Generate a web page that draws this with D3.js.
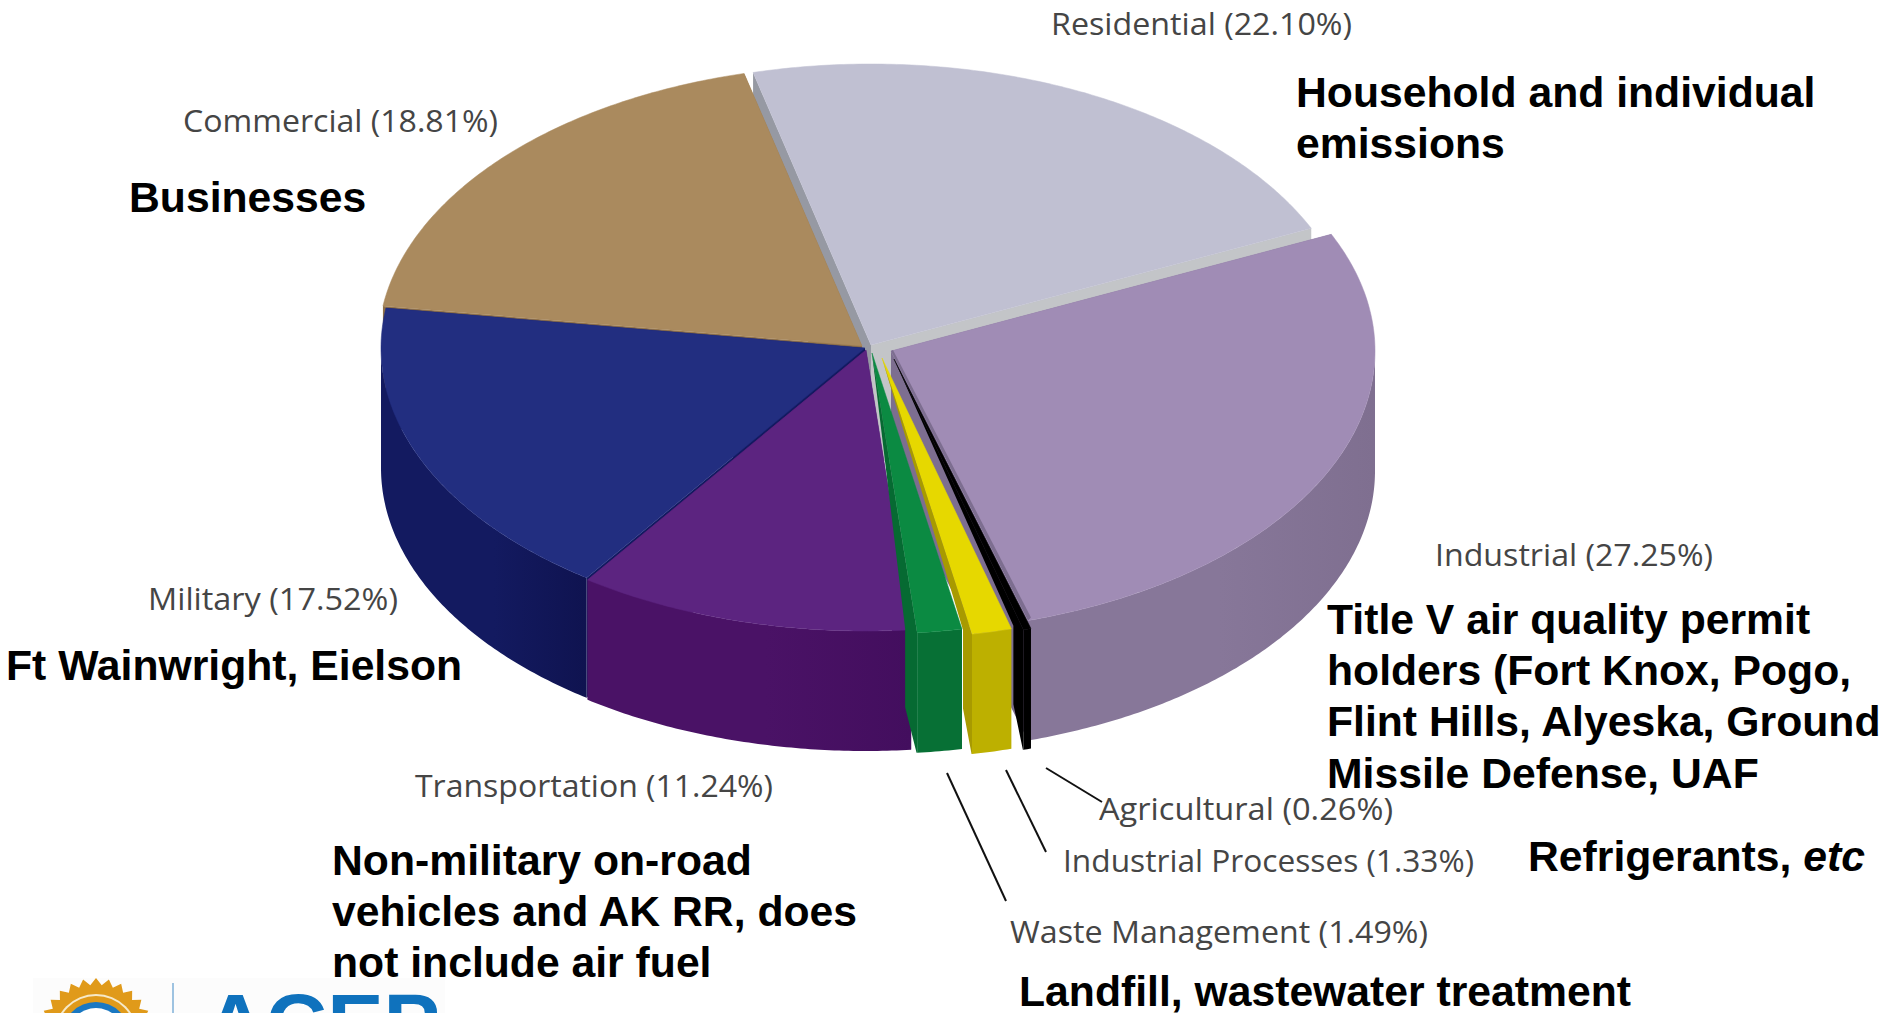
<!DOCTYPE html>
<html><head><meta charset="utf-8">
<style>html,body{margin:0;padding:0;background:#fff;overflow:hidden}svg{display:block}</style>
<script src="https://cdn.jsdelivr.net/npm/d3@7"></script></head>
<body><svg id="c" width="1888" height="1013"></svg>
<script>
const categories = ["Residential","Industrial","Agricultural","Industrial Processes","Waste Management","Transportation","Military","Commercial"];
const shares = [22.10,27.25,0.26,1.33,1.49,11.24,17.52,18.81];
const notes = [
 ["Household and individual","emissions"],
 ["Title V air quality permit","holders (Fort Knox, Pogo,","Flint Hills, Alyeska, Ground","Missile Defense, UAF"],
 [],
 ["Refrigerants, |etc"],
 ["Landfill, wastewater treatment"],
 ["Non-military on-road","vehicles and AK RR, does","not include air fuel"],
 ["Ft Wainwright, Eielson"],
 ["Businesses"]
];
const topColors  = ["#c0c0d2","#a08cb5","#000000","#e6d800","#0b8a42","#5c2480","#222e80","#aa8a5e"];
const wallColors = [["#c3c5c8","#c3c5c8"],["#877799","#7f6f90"],["#000000","#000000"],["#bdb000","#bdb000"],["#077035","#077035"],["#4a1266","#430e5e"],["#131a60","#0f1350"],["#8f7048","#8f7048"]];
const cutColors  = ["#c3c5c8","#7d6e90","#000000","#a89a00","#066a32","#4a1266","#131a60","#8f7048"];
const leftCut = "#9699a3";
// layout: explosion offset [dx,dy], side strip width, draw order
const explode = [[5,-5],[25,1],[28,9],[16,8],[6,3],[0,0],[-1,-2],[-4,-4]];
const strip   = [0,3,10,9,12,0,0,0];
const drawOrder = [0,7,1,6,5,2,3,4];
const labelBox = [[1051,35,301],[1435,566,278],[1099,820,294],[1063,872,411],[1010,943,418],[415,797,358],[148,610,250],[183,132,315]];
const noteBox  = [[1296,107],[1327,634],null,[1528,871],[1019,1006],[332,875],[6,680],[129,212]];
const leaders  = [[1046,768,1102,802],[1006,770,1046,852],[947,773,1006,901]];

const svg = d3.select("#c");
const defs = svg.append("defs");
const cx=866, cy=350, depth=120;
const X=d3.scaleLinear().domain([-1,1]).range([cx-484,cx+484]);
const Y=d3.scaleLinear().domain([-1,1]).range([cy-281,cy+281]);
const start=-14.1*Math.PI/180;
const arcs=d3.pie().sort(null).startAngle(start).endAngle(start+2*Math.PI)(shares);
const line=d3.line();
const rim=(a,o)=>[X(Math.sin(a))+o[0],Y(-Math.cos(a))+o[1]];
const samples=(a0,a1)=>{const n=Math.max(2,Math.ceil((a1-a0)/0.01));return d3.range(n+1).map(i=>a0+(a1-a0)*i/n);};
const poly=pts=>line(pts)+"Z";

drawOrder.forEach(i=>{
  const d=arcs[i], o=explode[i], g=svg.append("g").attr("class","slice");
  const apex=[cx+o[0],cy+o[1]];
  const down=p=>[p[0],p[1]+depth];
  const pA=rim(d.startAngle,o), pB=rim(d.endAngle,o);
  const narrow = i>=2 && i<=4;
  // cut faces (narrow wedges use a tapered strip instead)
  if(!narrow){
    g.append("path").attr("d",poly([apex,pA,down(pA),down(apex)])).attr("fill",i===0?leftCut:cutColors[i]);
    g.append("path").attr("d",poly([apex,pB,down(pB),down(apex)])).attr("fill",cutColors[i]);
  }
  // outer wall, only the part facing the viewer
  const a0=Math.max(d.startAngle,Math.PI/2), a1=Math.min(d.endAngle,3*Math.PI/2);
  if(a1>a0){
    const top=samples(a0,a1).map(a=>rim(a,o));
    const id="w"+i;
    const xs=top.map(p=>p[0]);
    const lg=defs.append("linearGradient").attr("id",id).attr("gradientUnits","userSpaceOnUse")
      .attr("x1",d3.min(xs)).attr("x2",d3.max(xs)).attr("y1",0).attr("y2",0);
    lg.append("stop").attr("offset",0).attr("stop-color",wallColors[i][0]);
    lg.append("stop").attr("offset",.55).attr("stop-color",wallColors[i][0]);
    lg.append("stop").attr("offset",1).attr("stop-color",wallColors[i][1]);
    g.append("path").attr("d",poly(top.concat(top.map(down).reverse()))).attr("fill",`url(#${id})`);
  }
  // top surface
  const topPts=[apex].concat(samples(d.startAngle,d.endAngle).map(a=>rim(a,o)));
  g.append("path").attr("d",poly(topPts)).attr("fill",topColors[i]).attr("stroke",topColors[i]).attr("stroke-width",.5);
  // tapered side strip on the clockwise-end edge of narrow wedges
  if(strip[i]){
    const w=strip[i], e=pB;
    if(i===1){
      g.append("path").attr("d",poly([apex,e,[e[0]+w,e[1]-3],[apex[0]+2,apex[1]-1]])).attr("fill",cutColors[i]);
    } else {
      g.append("path").attr("d",poly([apex,e,[e[0],e[1]+depth],[e[0]-w*.05,e[1]+depth],[e[0]-w,e[1]+depth*.62],[e[0]-w,e[1]-4]])).attr("fill",cutColors[i]);
    }
  }
});

// leader lines
svg.append("g").selectAll("line").data(leaders).join("line")
  .attr("x1",d=>d[0]).attr("y1",d=>d[1]).attr("x2",d=>d[2]).attr("y2",d=>d[3])
  .attr("stroke","#111").attr("stroke-width",2);

// sector labels
svg.append("g").selectAll("text").data(categories).join("text")
  .attr("x",(d,i)=>labelBox[i][0]).attr("y",(d,i)=>labelBox[i][1])
  .attr("textLength",(d,i)=>labelBox[i][2]).attr("lengthAdjust","spacingAndGlyphs")
  .attr("font-family","Open Sans").attr("font-size",31).attr("fill","#454545")
  .text((d,i)=>`${d} (${d3.format(".2f")(shares[i])}%)`);

// bold notes
notes.forEach((ls,i)=>{
  if(!noteBox[i])return;
  ls.forEach((l,k)=>{
    const t=svg.append("text").attr("x",noteBox[i][0]).attr("y",noteBox[i][1]+k*51.2)
      .attr("font-family","Liberation Sans").attr("font-weight","bold").attr("font-size",42.7).attr("fill","#000");
    const [a,b]=l.split("|");
    t.append("tspan").text(a);
    if(b)t.append("tspan").attr("font-style","italic").text(b);
  });
});

// logo, cropped by the bottom of the picture
const logo=svg.append("g");
logo.append("rect").attr("x",33).attr("y",978).attr("width",412).attr("height",35).attr("fill","#fcfcfc");
const sun=[96,1036];
const starPts=d3.range(56).map(i=>{const a=i*Math.PI/28,r=i%2?51:58;return [sun[0]+r*Math.sin(a),sun[1]-r*Math.cos(a)];});
logo.append("path").attr("d",poly(starPts)).attr("fill","#e09a1a");
[[42,"#f6e9c8"],[40,"#e09a1a"],[34,"#1a78c2"],[28,"#ffffff"]].forEach(r=>
  logo.append("circle").attr("cx",sun[0]).attr("cy",sun[1]).attr("r",r[0]).attr("fill",r[1]));
logo.append("line").attr("x1",173).attr("x2",173).attr("y1",983).attr("y2",1013).attr("stroke","#7fb0d8").attr("stroke-width",1.5);
logo.append("text").attr("x",205).attr("y",1051).attr("textLength",235).attr("lengthAdjust","spacingAndGlyphs")
  .attr("font-family","Liberation Sans").attr("font-weight","bold").attr("font-size",81).attr("fill","#0f72bd").text("ACEP");
</script></body></html>
